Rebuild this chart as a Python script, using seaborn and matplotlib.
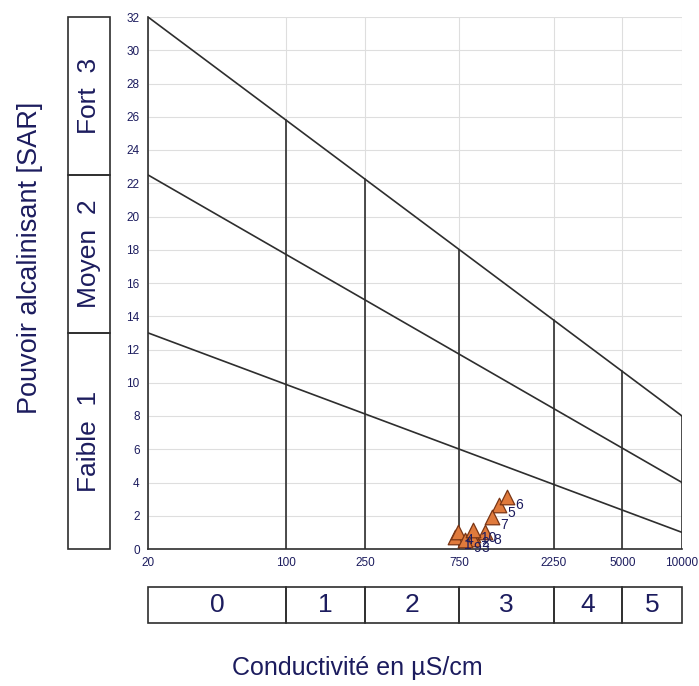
import numpy as np
import pandas as pd
import matplotlib
matplotlib.use("Agg")
import matplotlib.pyplot as plt
from matplotlib.patches import Rectangle
import seaborn as sns

# ---------------- data ----------------
sample_ids = ["1", "2", "3", "4", "5", "6", "7", "8", "9", "10"]
conductivity = [715, 880, 880, 735, 1195, 1300, 1090, 1010, 800, 880]
sar = [0.75, 0.85, 0.6, 1.05, 2.65, 3.15, 1.95, 1.05, 0.55, 1.15]

cond_ticks = [20, 100, 250, 750, 2250, 5000, 10000]
cond_tick_labels = ["20", "100", "250", "750", "2250", "5000", "10000"]
sar_ticks = list(range(0, 33, 2))

# classification lines: SAR at the ends (20 and 10000 uS/cm)
line_ends_cond = [20, 10000]
line_low = [13, 1]
line_mid = [22.5, 4]
line_high = [32, 8]

# salinity classes (bottom boxes)
sal_bounds = [20, 100, 250, 750, 2250, 5000, 10000]
sal_labels = ["0", "1", "2", "3", "4", "5"]

# alkali classes (left boxes)
alk_bounds = [0, 13, 22.5, 32]
alk_labels = ["Faible  1", "Moyen  2", "Fort  3"]

# ---------------- style ----------------
sns.set_style("white")
plt.rcParams["font.family"] = ["Liberation Sans", "DejaVu Sans"]
navy = "#1c1c5e"
dark = "#2e2e2e"

W, H = 699, 686
fig = plt.figure(figsize=(W / 100, H / 100), dpi=100)

def fr(x0, y0, x1, y1):
    return [x0 / W, 1 - y1 / H, (x1 - x0) / W, (y1 - y0) / H]

ax = fig.add_axes(fr(148, 17, 682, 549))
ax.set_xscale("log")
ax.set_xlim(20, 10000)
ax.set_ylim(0, 32)

ax.set_xticks(cond_ticks)
ax.set_xticklabels(cond_tick_labels)
ax.xaxis.set_minor_locator(matplotlib.ticker.NullLocator())
ax.set_yticks(sar_ticks)
ax.tick_params(axis="both", which="major", labelsize=8.5, labelcolor=navy,
               color="#aaaaaa", length=3, width=0.8, direction="out", pad=3)
ax.grid(True, color="#dedede", linewidth=0.8)
ax.set_axisbelow(True)
for s in ["top", "right"]:
    ax.spines[s].set_visible(False)
for s in ["left", "bottom"]:
    ax.spines[s].set_color(dark)
    ax.spines[s].set_linewidth(1.2)

def interp_line(c, ends):
    lx = np.log10(line_ends_cond)
    return np.interp(np.log10(c), lx, ends)

for ends in (line_low, line_mid, line_high):
    ax.plot(line_ends_cond, ends, color=dark, lw=1.2, zorder=2)

# vertical class boundaries up to the top line
for b in sal_bounds[1:]:
    ax.plot([b, b], [0, interp_line(b, line_high)], color=dark, lw=1.2, zorder=2)

df = pd.DataFrame({"cond": conductivity, "sar": sar, "id": sample_ids})
sns.scatterplot(data=df, x="cond", y="sar", marker="^", s=110,
                color="#e07a3c", edgecolor="#7a3515", linewidth=0.9,
                ax=ax, zorder=4, legend=False)
for c, v, lab in zip(conductivity, sar, sample_ids):
    ax.annotate(lab, (c, v), xytext=(6, -9), textcoords="offset points",
                fontsize=10, color=navy, zorder=5)
ax.set_xlabel("")
ax.set_ylabel("")

# ---------------- left boxes ----------------
axl = fig.add_axes(fr(68, 17, 110, 549))
axl.set_xlim(0, 1)
axl.set_ylim(0, 32)
axl.axis("off")
for lo, hi, lab in zip(alk_bounds[:-1], alk_bounds[1:], alk_labels):
    axl.add_patch(Rectangle((0, lo), 1, hi - lo, fill=False, edgecolor=dark,
                            lw=1.2, clip_on=False))
    axl.text(0.5, (lo + hi) / 2, lab, rotation=90, ha="center", va="center",
             fontsize=19, color=navy)

# ---------------- bottom boxes ----------------
axb = fig.add_axes(fr(148, 587, 682, 623))
axb.set_xscale("log")
axb.set_xlim(20, 10000)
axb.set_ylim(0, 1)
axb.axis("off")
for lo, hi, lab in zip(sal_bounds[:-1], sal_bounds[1:], sal_labels):
    axb.add_patch(Rectangle((lo, 0), hi - lo, 1, fill=False, edgecolor=dark,
                            lw=1.2, clip_on=False))
    axb.text(np.sqrt(lo * hi), 0.5, lab, ha="center", va="center",
             fontsize=19, color=navy)

# ---------------- axis titles ----------------
fig.text(30 / W, 1 - 258 / H, "Pouvoir alcalinisant [SAR]", rotation=90,
         ha="center", va="center", fontsize=19.5, color=navy)
fig.text(357 / W, 1 - 668 / H, "Conductivité en µS/cm", ha="center",
         va="center", fontsize=18, color=navy)

fig.savefig("out.png", dpi=100)
